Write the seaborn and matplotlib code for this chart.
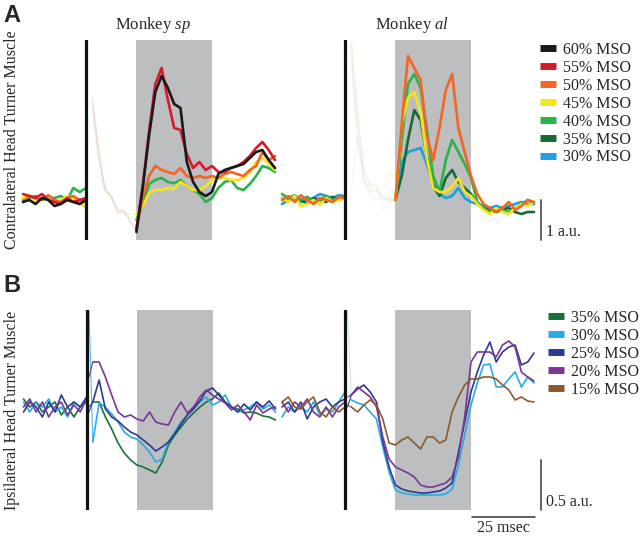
import matplotlib
matplotlib.use("Agg")
import matplotlib.pyplot as plt
from matplotlib.lines import Line2D
import seaborn as sns

sns.set_style("white")
plt.rcParams["font.family"] = ["Liberation Serif", "DejaVu Serif"]
plt.rcParams["mathtext.fontset"] = "custom"
plt.rcParams["mathtext.rm"] = "Liberation Serif"
plt.rcParams["mathtext.it"] = "Liberation Serif:italic"

# --------------------------------------------------
# time grids (msec from TMS pulse)
# --------------------------------------------------
T_PRE = [-25, -22.5, -20, -17.5, -15, -12.5, -10, -7.5, -5, -2.5, 0]
T_ART = [0, 2.5, 5, 7.5, 10, 12.5, 15, 17.5, 20]
T_POST = [20, 22.5, 25, 27.5, 30, 32.5, 35, 37.5, 40, 42.5, 45, 47.5, 50,
          52.5, 55, 57.5, 60, 62.5, 65, 67.5, 70, 72.5, 75]
T_AFTER = [0, 1, 2.5, 5, 7.5, 10, 12.5, 15, 17.5, 20, 22.5, 25, 27.5, 30, 32.5,
           35, 37.5, 40, 42.5, 45, 47.5, 50, 52.5, 55, 57.5, 60, 62.5, 65,
           67.5, 70, 72.5, 75]

RESPONSE_WINDOW = (20, 50)

# --------------------------------------------------
# A: contralateral muscle, monkey sp
# --------------------------------------------------
a_sp_60_pre = [-0.05, 0.0, -0.1, 0.05, 0.0, -0.15, -0.1, 0.0, -0.05, -0.1, 0.0]
a_sp_60_art = [0.0, 2.5, 1.2, 0.25, 0.1, -0.3, -0.3, -0.55, -0.8]
a_sp_60_post = [-0.8, 0.3, 1.6, 2.7, 3.1, 2.8, 2.4, 2.3, 0.95, 0.45, 0.2, 0.1, 0.2,
                0.65, 0.75, 0.8, 0.85, 0.9, 1.05, 1.2, 1.25, 1.0, 0.8]

a_sp_55_pre = [0.15, 0.1, 0.05, 0.15, 0.0, -0.05, -0.1, 0.05, -0.05, 0.0, 0.05]
a_sp_55_art = [0.05, 2.6, 1.3, 0.3, 0.05, -0.3, -0.25, -0.5, -0.75]
a_sp_55_post = [-0.75, 0.35, 1.7, 2.9, 3.3, 2.5, 1.8, 1.75, 1.15, 0.8, 0.95, 0.75,
                0.85, 0.7, 0.7, 0.8, 0.85, 0.95, 1.1, 1.3, 1.45, 1.25, 1.0]

a_sp_50_pre = [-0.05, 0.1, 0.05, 0.0, 0.12, 0.0, -0.05, 0.05, 0.1, 0.0, -0.05]
a_sp_50_art = [-0.05, 2.4, 1.1, 0.25, 0.1, -0.25, -0.3, -0.5, -0.7]
a_sp_50_post = [-0.7, 0.05, 0.6, 0.85, 0.75, 0.7, 0.65, 0.8, 0.6, 0.55, 0.6, 0.55,
                0.6, 0.55, 0.65, 0.7, 0.65, 0.6, 0.75, 0.85, 1.2, 1.0, 1.1]

a_sp_45_pre = [0.05, 0.12, 0.0, 0.05, 0.1, -0.05, 0.0, 0.1, 0.05, -0.05, -0.2]
a_sp_45_art = [-0.2, 2.2, 1.0, 0.2, 0.05, -0.2, -0.25, -0.4, -0.35]
a_sp_45_post = [-0.35, -0.15, 0.17, 0.25, 0.25, 0.3, 0.28, 0.45, 0.35, 0.25, 0.25,
                0.35, 0.5, 0.55, 0.55, 0.5, 0.5, 0.55, 0.7, 0.95, 1.05, 0.9, 0.75]

a_sp_40_pre = [0.0, 0.05, 0.1, 0.0, 0.05, 0.05, 0.1, 0.0, 0.3, 0.2, 0.3]
a_sp_40_art = [0.3, 2.3, 1.0, 0.3, 0.1, -0.2, -0.3, -0.45, -0.5]
a_sp_40_post = [-0.5, -0.1, 0.4, 0.5, 0.55, 0.45, 0.42, 0.5, 0.35, 0.25, 0.15,
                -0.05, 0.05, 0.3, 0.45, 0.5, 0.3, 0.25, 0.4, 0.6, 0.85, 0.8, 0.7]

# --------------------------------------------------
# A: contralateral muscle, monkey al
# --------------------------------------------------
a_al_50_pre = [0.0, 0.1, -0.05, 0.12, 0.0, -0.1, 0.05, 0.0, -0.05, 0.08, 0.05]
a_al_50_art = [0.05, 3.9, 2.0, 0.7, 0.35, 0.4, -0.25, -0.1, 0.0]
a_al_50_post = [0.0, 1.9, 3.6, 3.3, 3.0, 1.6, 1.0, 1.8, 2.75, 3.15, 1.8, 1.2, 0.6,
                0.15, -0.1, -0.2, -0.3, -0.2, -0.05, -0.25, -0.15, 0.0, -0.05]

a_al_45_pre = [0.05, -0.05, 0.1, -0.15, -0.1, 0.0, -0.12, 0.05, -0.05, 0.0, 0.05]
a_al_45_art = [0.05, 3.9, 1.8, 0.6, 0.3, 0.3, 0.0, -0.05, 0.0]
a_al_45_post = [0.0, 1.9, 2.55, 2.7, 2.2, 1.05, 0.3, 0.2, 0.2, 0.35, 0.55, 0.2, 0.1,
                -0.1, -0.25, -0.35, -0.2, -0.3, -0.35, -0.2, -0.1, -0.15, -0.05]

a_al_40_pre = [0.15, 0.05, 0.12, 0.0, 0.08, -0.05, 0.0, 0.1, 0.0, 0.05, 0.1]
a_al_40_art = [0.1, 3.9, 2.2, 0.8, 0.4, 0.35, 0.1, 0.0, 0.0]
a_al_40_post = [0.0, 1.5, 2.9, 3.15, 2.8, 1.75, 0.6, 0.2, 1.0, 1.5, 1.2, 0.9, 0.55,
                -0.05, -0.2, -0.3, -0.28, -0.25, -0.3, -0.2, -0.1, 0.0, -0.08]

a_al_35_pre = [0.05, -0.05, 0.1, 0.0, -0.1, 0.05, 0.0, -0.05, 0.08, 0.0, 0.05]
a_al_35_art = [0.05, 3.5, 1.5, 0.5, 0.2, 0.25, 0.05, 0.0, 0.0]
a_al_35_post = [0.0, 0.6, 1.5, 2.25, 2.0, 1.1, 0.35, 0.1, 0.55, 0.75, 0.45, 0.3,
                0.15, -0.1, -0.2, -0.25, -0.3, -0.25, -0.2, -0.3, -0.35, -0.3, -0.3]

a_al_30_pre = [-0.1, 0.0, 0.05, -0.05, 0.0, 0.05, 0.15, 0.1, 0.05, 0.12, 0.1]
a_al_30_art = [0.1, 0.2, 1.6, 0.5, 0.1, 0.05, 0.0, 0.05, 0.0]
a_al_30_post = [0.0, 0.95, 1.2, 1.25, 1.3, 0.9, 0.4, 0.15, 0.05, 0.1, 0.3, 0.05,
                -0.05, -0.1, -0.15, -0.2, -0.15, -0.2, -0.15, -0.1, -0.05, -0.1, -0.1]

# --------------------------------------------------
# B: ipsilateral muscle, monkey sp
# --------------------------------------------------
b_sp_35_pre = [0.08, 0.0, 0.05, -0.05, 0.0, 0.05, -0.08, 0.0, -0.1, 0.0, 0.05]
b_sp_35_post = [0.05, 0.0, 0.05, 0.05, -0.1, -0.22, -0.36, -0.46, -0.53, -0.58,
                -0.6, -0.63, -0.66, -0.55, -0.38, -0.28, -0.2, -0.12, -0.06, 0.0,
                0.05, 0.08, 0.14, 0.05, 0.0, -0.02, -0.06, -0.05, -0.06, -0.09,
                -0.1, -0.13]

b_sp_30_pre = [0.05, -0.05, 0.05, 0.0, 0.08, -0.05, 0.0, -0.1, 0.05, 0.0, 0.05]
b_sp_30_post = [0.05, 0.97, -0.35, 0.04, 0.0, -0.07, -0.15, -0.25, -0.3, -0.32,
                -0.38, -0.45, -0.55, -0.52, -0.35, -0.25, -0.15, -0.08, 0.0, 0.05,
                0.1, 0.02, 0.05, 0.12, 0.0, -0.05, -0.03, 0.0, 0.05, -0.02, 0.02,
                -0.05]

b_sp_25_pre = [-0.05, 0.05, 0.0, -0.1, 0.05, -0.05, 0.12, 0.0, 0.05, 0.0, 0.1]
b_sp_25_post = [0.1, -0.05, 0.05, 0.27, -0.02, -0.1, -0.14, -0.2, -0.25, -0.28,
                -0.33, -0.38, -0.44, -0.4, -0.35, -0.27, -0.17, -0.08, -0.02, 0.06,
                0.16, 0.19, 0.12, 0.05, 0.0, -0.05, 0.03, -0.03, 0.05, 0.0, 0.06,
                -0.02]

b_sp_20_pre = [0.0, 0.08, -0.05, 0.05, -0.1, 0.0, 0.05, -0.08, 0.02, -0.05, 0.08]
b_sp_20_post = [0.05, 0.3, 0.45, 0.45, 0.3, 0.12, -0.05, -0.1, -0.08, -0.12,
                -0.14, -0.05, -0.15, -0.17, -0.18, -0.05, 0.05, -0.06, 0.0, 0.1,
                0.17, 0.12, 0.08, 0.04, -0.03, 0.02, -0.05, -0.13, 0.02, -0.06,
                -0.02, 0.0]

# --------------------------------------------------
# B: ipsilateral muscle, monkey al
# --------------------------------------------------
b_al_30_pre = [-0.1, 0.0, -0.05, 0.0, -0.05, 0.05, -0.08, -0.02, -0.05, 0.05, 0.15]
b_al_30_post = [0.15, 0.97, 0.07, 0.04, 0.02, -0.05, -0.12, -0.4, -0.65, -0.83,
                -0.86, -0.87, -0.88, -0.88, -0.88, -0.88, -0.88, -0.87, -0.82,
                -0.58, -0.28, 0.02, 0.24, 0.42, 0.43, 0.2, 0.2, 0.28, 0.35, 0.2,
                0.3, 0.24]

b_al_25_pre = [0.0, 0.05, -0.05, 0.05, -0.12, 0.0, 0.05, 0.08, 0.0, 0.05, 0.08]
b_al_25_post = [0.08, 0.0, 0.12, 0.18, 0.22, 0.15, 0.05, -0.35, -0.6, -0.78, -0.82,
                -0.84, -0.85, -0.86, -0.86, -0.85, -0.84, -0.81, -0.76, -0.45,
                -0.15, 0.15, 0.35, 0.52, 0.65, 0.45, 0.55, 0.6, 0.62, 0.42, 0.45,
                0.54]

b_al_20_pre = [0.05, -0.05, 0.05, 0.0, 0.08, -0.05, -0.1, 0.0, -0.1, 0.0, 0.05]
b_al_20_post = [0.05, 0.1, 0.12, 0.2, 0.15, 0.1, 0.0, -0.3, -0.52, -0.6, -0.63,
                -0.66, -0.7, -0.78, -0.8, -0.8, -0.78, -0.76, -0.7, -0.5, -0.1,
                0.45, 0.55, 0.55, 0.55, 0.5, 0.62, 0.66, 0.6, 0.35, 0.3, 0.26]

b_al_15_pre = [0.05, 0.1, 0.0, -0.02, 0.05, 0.1, -0.05, -0.1, 0.0, -0.05, 0.0]
b_al_15_post = [0.0, 0.02, 0.0, -0.05, 0.02, 0.07, 0.02, -0.12, -0.36, -0.38,
                -0.33, -0.3, -0.36, -0.42, -0.3, -0.3, -0.36, -0.33, -0.05, 0.1,
                0.22, 0.28, 0.28, 0.3, 0.3, 0.28, 0.22, 0.17, 0.07, 0.1, 0.06,
                0.05]

# --------------------------------------------------
# legend labels and colours
# --------------------------------------------------
A_LABELS = ["60% MSO", "55% MSO", "50% MSO", "45% MSO", "40% MSO", "35% MSO", "30% MSO"]
A_COLORS = ["#1a1a1a", "#d71a2b", "#f26522", "#f7e51b", "#2bb34b", "#176b35", "#1f9fdb"]
B_LABELS = ["35% MSO", "30% MSO", "25% MSO", "20% MSO", "15% MSO"]
B_COLORS = ["#18703a", "#29abe2", "#2b3a92", "#7b3595", "#8a5a2e"]

GRAY = "#bcbec0"
W, H = 640, 540

# draw order = back to front
a_sp_traces = [(a_sp_40_pre, a_sp_40_art, a_sp_40_post, A_COLORS[4]),
               (a_sp_45_pre, a_sp_45_art, a_sp_45_post, A_COLORS[3]),
               (a_sp_50_pre, a_sp_50_art, a_sp_50_post, A_COLORS[2]),
               (a_sp_55_pre, a_sp_55_art, a_sp_55_post, A_COLORS[1]),
               (a_sp_60_pre, a_sp_60_art, a_sp_60_post, A_COLORS[0])]
a_al_traces = [(a_al_30_pre, a_al_30_art, a_al_30_post, A_COLORS[6]),
               (a_al_35_pre, a_al_35_art, a_al_35_post, A_COLORS[5]),
               (a_al_40_pre, a_al_40_art, a_al_40_post, A_COLORS[4]),
               (a_al_45_pre, a_al_45_art, a_al_45_post, A_COLORS[3]),
               (a_al_50_pre, a_al_50_art, a_al_50_post, A_COLORS[2])]
b_sp_traces = [(b_sp_35_pre, b_sp_35_post, B_COLORS[0], 1.0),
               (b_sp_30_pre, b_sp_30_post, B_COLORS[1], 0.8),
               (b_sp_25_pre, b_sp_25_post, B_COLORS[2], 1.0),
               (b_sp_20_pre, b_sp_20_post, B_COLORS[3], 1.0)]
b_al_traces = [(b_al_30_pre, b_al_30_post, B_COLORS[1], 0.25),
               (b_al_25_pre, b_al_25_post, B_COLORS[2], 1.0),
               (b_al_20_pre, b_al_20_post, B_COLORS[3], 1.0),
               (b_al_15_pre, b_al_15_post, B_COLORS[4], 1.0)]


fig = plt.figure(figsize=(6.4, 5.4), dpi=100)


def make_ax(stim_px, base_py, px_ms, px_au, ylim):
    # place an axes so that msec / a.u. land where the original put them
    t_lo, t_hi = -27, 80
    left = stim_px + t_lo * px_ms
    right = stim_px + t_hi * px_ms
    top = base_py - ylim[1] * px_au
    bottom = base_py - ylim[0] * px_au
    ax = fig.add_axes([left / W, 1 - bottom / H, (right - left) / W, (bottom - top) / H])
    ax.set_xlim(t_lo, t_hi)
    ax.set_ylim(*ylim)
    ax.axis("off")
    ax.axvspan(*RESPONSE_WINDOW, color=GRAY, lw=0, zorder=0)
    ax.axvline(0, color="#111111", lw=2.3, zorder=5)
    return ax


def trace(ax, t, y, color, lw, alpha=1.0):
    sns.lineplot(x=t, y=y, color=color, lw=lw, alpha=alpha, ax=ax,
                 estimator=None, sort=False, legend=False)


ax_a_sp = make_ax(86, 200, 2.52, 40, (-1.0, 4.0))
ax_a_al = make_ax(345, 200, 2.52, 40, (-1.0, 4.0))
ax_b_sp = make_ax(86.5, 407, 2.52, 100, (-1.03, 0.97))
ax_b_al = make_ax(345, 407, 2.52, 100, (-1.03, 0.97))

for ax, traces in [(ax_a_sp, a_sp_traces), (ax_a_al, a_al_traces)]:
    for pre, art, post, c in traces:
        # stimulus artefact shown faded
        trace(ax, T_ART[1:], art[1:], c, 1.2, alpha=0.06)
        trace(ax, T_PRE, pre, c, 1.9)
        trace(ax, T_POST, post, c, 1.9)

for ax, traces in [(ax_b_sp, b_sp_traces), (ax_b_al, b_al_traces)]:
    for pre, post, c, spike_alpha in traces:
        trace(ax, T_PRE, pre, c, 1.2)
        trace(ax, T_AFTER[1:3], post[1:3], c, 0.8, alpha=spike_alpha)
        trace(ax, T_AFTER[2:], post[2:], c, 1.2)

# scale bars
ax_a_al.plot([77.8, 77.8], [0, -1], color="#555555", lw=1.3, clip_on=False)
ax_a_al.text(79.8, -0.8, "1 a.u.", fontsize=11.5, va="center", ha="left")
ax_b_al.plot([77.8, 77.8], [-0.53, -1.03], color="#555555", lw=1.3, clip_on=False)
ax_b_al.text(79.8, -0.95, "0.5 a.u.", fontsize=11.5, va="center", ha="left")
ax_b_al.plot([50.4, 75.4], [-1.1, -1.1], color="#333333", lw=1.1, clip_on=False)
ax_b_al.text(62.9, -1.21, "25 msec", fontsize=11.5, va="center", ha="center")

# titles and labels
fig.text(153 / W, 1 - 25 / H, r"Monkey $\mathit{sp}$", fontsize=12, ha="center", va="center")
fig.text(412 / W, 1 - 25 / H, r"Monkey $\mathit{al}$", fontsize=12, ha="center", va="center")
fig.text(12 / W, 1 - 140 / H, "Contralateral Head Turner Muscle", rotation=90,
         fontsize=11.5, ha="center", va="center")
fig.text(12 / W, 1 - 410 / H, "Ipsilateral Head Turner Muscle", rotation=90,
         fontsize=11.5, ha="center", va="center")
fig.text(3 / W, 1 - 15 / H, "A", fontsize=17, fontweight="bold",
         family="Liberation Sans", ha="left", va="center")
fig.text(3 / W, 1 - 285 / H, "B", fontsize=17, fontweight="bold",
         family="Liberation Sans", ha="left", va="center")

# legends
a_handles = [Line2D([0], [0], color=c, lw=5, solid_capstyle="butt") for c in A_COLORS]
fig.legend(a_handles, A_LABELS, loc="upper left", bbox_to_anchor=(540 / W, 1 - 42 / H),
           frameon=False, fontsize=11.5, handlelength=1.0, handletextpad=0.45,
           labelspacing=0.12, borderpad=0, borderaxespad=0)
b_handles = [Line2D([0], [0], color=c, lw=5, solid_capstyle="butt") for c in B_COLORS]
fig.legend(b_handles, B_LABELS, loc="upper left", bbox_to_anchor=(548 / W, 1 - 310 / H),
           frameon=False, fontsize=11.5, handlelength=1.0, handletextpad=0.45,
           labelspacing=0.12, borderpad=0, borderaxespad=0)

fig.savefig("out.png", dpi=100)
